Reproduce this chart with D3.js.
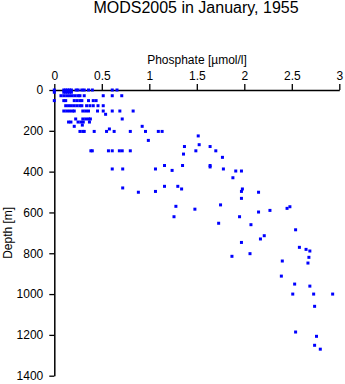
<!DOCTYPE html>
<html>
<head>
<meta charset="utf-8">
<script src="https://cdn.jsdelivr.net/npm/d3@7"></script>
<style>
  html, body { margin: 0; padding: 0; background: #fff; }
  svg { display: block; font-family: "Liberation Sans", Arial, Helvetica, sans-serif; }
</style>
</head>
<body>
<svg id="chart" width="345" height="384"></svg>
<script>
const title = "MODS2005 in January, 1955";
const xLabel = "Phosphate [µmol/l]";
const yLabel = "Depth [m]";
const xTicks = [0, 0.5, 1, 1.5, 2, 2.5, 3];
const yTicks = [0, 200, 400, 600, 800, 1000, 1200, 1400];

// depth [m] and phosphate [µmol/l] (parallel arrays)
const depth = [
  0,0,0,0,0,0,0,0,0,0,0,0,0,0,
  11,11,11,11,11,11,
  28,28,28,28,28,28,28,28,28,28,28,28,
  52,52,52,52,52,52,52,52,52,52,
  77,77,77,77,77,77,77,77,77,77,77,77,
  103,103,103,103,103,103,103,103,103,103,103,103,103,
  119,
  142,142,142,142,142,142,
  157,157,157,157,157,157,
  172,
  178,178,
  191,
  203,203,203,203,203,203,203,203,203,203,
  225,247,268,277,277,
  298,298,298,298,298,298,298,298,298,
  314,330,370,370,370,377,
  387,387,387,387,394,397,397,430,472,472,480,485,485,497,497,501,501,
  531,563,570,572,580,584,590,598,621,621,653,660,685,714,730,747,771,781,789,
  802,815,820,838,848,912,951,961,1000,1000,1000,1060,1186,1207,1251,1270
];
const phosphate = [
  0,0.10,0.12,0.14,0.16,0.18,0.23,0.25,0.29,0.315,0.36,0.40,0.61,0.66,
  0,0.10,0.12,0.14,0.16,0.18,
  0.07,0.10,0.13,0.16,0.19,0.22,0.25,0.27,0.315,0.515,0.61,0.71,
  0,0.10,0.12,0.21,0.24,0.27,0.29,0.36,0.41,0.44,
  0.12,0.15,0.18,0.21,0.24,0.27,0.29,0.34,0.375,0.41,0.46,0.515,
  0.10,0.13,0.16,0.19,0.21,0.30,0.33,0.36,0.455,0.515,0.61,0.69,0.83,
  0.54,
  0.225,0.30,0.33,0.36,0.38,0.715,
  0.15,0.175,0.25,0.28,0.305,0.37,
  0.295,
  0.21,0.925,
  0.58,
  0.27,0.30,0.315,0.42,0.55,0.63,0.80,0.96,1.095,1.135,
  1.515,0.99,1.525,1.37,1.64,
  0.385,0.40,0.57,0.61,0.685,0.715,0.80,1.49,1.70,
  1.36,1.77,1.64,1.16,1.35,1.64,
  0.61,0.72,1.065,1.78,1.24,1.91,1.97,1.88,1.16,1.30,0.72,1.34,1.98,1.065,1.97,0.885,2.15,
  1.97,1.75,1.28,2.48,2.45,1.48,2.27,2.15,1.26,1.95,1.73,2.07,2.54,2.21,2.17,1.97,2.58,2.65,2.69,
  2.06,1.87,2.68,2.40,2.67,2.39,2.53,2.69,2.51,2.73,2.93,2.74,2.54,2.76,2.74,2.80
];

const svg = d3.select("#chart");
const x = d3.scaleLinear().domain([0, 3]).range([54.3, 339.3]);
const y = d3.scaleLinear().domain([0, 1400]).range([90, 375.7]);

svg.append("text")
  .attr("x", 196).attr("y", 13)
  .attr("text-anchor", "middle")
  .attr("font-size", 16)
  .text(title);

const xAxis = svg.append("g")
  .attr("transform", `translate(0,${y(0)})`)
  .call(d3.axisTop(x).tickValues(xTicks).tickFormat(d3.format("~g")).tickSize(6).tickSizeOuter(0).tickPadding(4));
const yAxis = svg.append("g")
  .attr("transform", `translate(${x(0)},0)`)
  .call(d3.axisLeft(y).tickValues(yTicks).tickFormat(d3.format("d")).tickSize(5).tickSizeOuter(0).tickPadding(6));

[xAxis, yAxis].forEach(g => {
  g.selectAll("text").attr("font-size", 12).attr("font-family", "Liberation Sans, Arial, sans-serif").attr("fill", "#000");
  g.selectAll("line").attr("stroke", "#000").attr("stroke-width", 1.3);
  g.select(".domain").attr("stroke", "#000").attr("stroke-width", 1.5);
});

svg.append("text")
  .attr("x", 197).attr("y", 64)
  .attr("text-anchor", "middle")
  .attr("font-size", 12)
  .text(xLabel);

svg.append("text")
  .attr("transform", `translate(12,${(y(0) + y(1400)) / 2}) rotate(-90)`)
  .attr("text-anchor", "middle")
  .attr("font-size", 12)
  .text(yLabel);

const pts = depth.map((d, i) => ({ d, p: phosphate[i] }));
svg.append("g")
  .selectAll("rect")
  .data(pts)
  .join("rect")
  .attr("x", v => x(v.p) - 1.5)
  .attr("y", v => y(v.d) - 1.5)
  .attr("width", 3)
  .attr("height", 3)
  .attr("fill", "#0000ff");
</script>
</body>
</html>
